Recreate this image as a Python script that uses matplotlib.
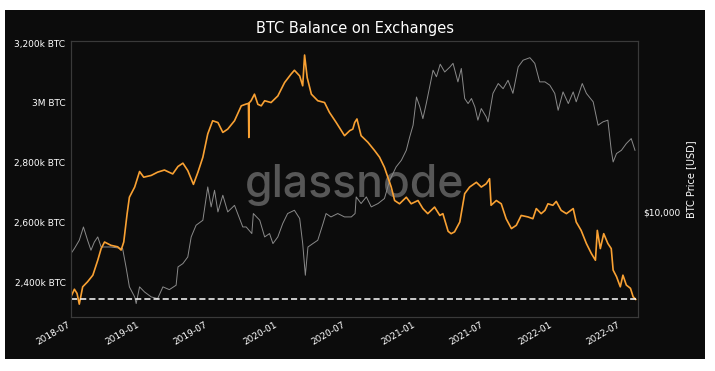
import numpy as np
import pandas as pd
import matplotlib
matplotlib.use('Agg')
import matplotlib.pyplot as plt
import matplotlib.dates as mdates
from matplotlib.ticker import FixedLocator, FuncFormatter, NullLocator, NullFormatter
from matplotlib.patches import Rectangle

# BTC balance on exchanges, thousand BTC
bal_dates = ['2018-06-29', '2018-07-08', '2018-07-15', '2018-07-21', '2018-07-30', '2018-08-12',
             '2018-08-26', '2018-09-08', '2018-09-17', '2018-09-26', '2018-10-13', '2018-10-31',
             '2018-11-09', '2018-11-16', '2018-11-25', '2018-12-01', '2018-12-15', '2018-12-28',
             '2019-01-08', '2019-01-28', '2019-02-14', '2019-03-04', '2019-03-26', '2019-04-09',
             '2019-04-22', '2019-05-05', '2019-05-20', '2019-06-01', '2019-06-14', '2019-06-27',
             '2019-07-10', '2019-07-24', '2019-08-06', '2019-08-19', '2019-09-06', '2019-09-24',
             '2019-10-07', '2019-10-13', '2019-10-14', '2019-10-15', '2019-10-20', '2019-10-29',
             '2019-11-07', '2019-11-16', '2019-11-25', '2019-12-12', '2019-12-30', '2020-01-17',
             '2020-02-03', '2020-02-12', '2020-02-26', '2020-03-05', '2020-03-10', '2020-03-17',
             '2020-03-28', '2020-04-14', '2020-05-02', '2020-05-15', '2020-06-02', '2020-06-24',
             '2020-07-08', '2020-07-16', '2020-07-21', '2020-07-27', '2020-08-07', '2020-08-25',
             '2020-09-12', '2020-09-25', '2020-10-08', '2020-10-17', '2020-10-26', '2020-11-04',
             '2020-11-17', '2020-12-05', '2020-12-18', '2021-01-05', '2021-01-18', '2021-01-31',
             '2021-02-18', '2021-03-04', '2021-03-12', '2021-03-26', '2021-04-03', '2021-04-12',
             '2021-04-26', '2021-05-09', '2021-05-22', '2021-06-09', '2021-06-22', '2021-07-05',
             '2021-07-14', '2021-07-18', '2021-08-01', '2021-08-14', '2021-08-27', '2021-09-10',
             '2021-09-23', '2021-10-06', '2021-10-24', '2021-11-06', '2021-11-15', '2021-11-28',
             '2021-12-08', '2021-12-16', '2021-12-29', '2022-01-07', '2022-01-20', '2022-02-03',
             '2022-02-21', '2022-03-01', '2022-03-14', '2022-03-28', '2022-04-10', '2022-04-21',
             '2022-04-26', '2022-05-04', '2022-05-13', '2022-05-24', '2022-06-02', '2022-06-07',
             '2022-06-16', '2022-06-26', '2022-07-03', '2022-07-12', '2022-07-23', '2022-07-30',
             '2022-08-06']
bal_k = [2351, 2376, 2362, 2326, 2384, 2401,
         2423, 2473, 2512, 2534, 2523, 2518,
         2507, 2534, 2629, 2684, 2718, 2770,
         2751, 2757, 2768, 2775, 2762, 2787,
         2798, 2773, 2727, 2768, 2818, 2896,
         2940, 2934, 2901, 2912, 2940, 2990,
         2996, 2998, 2884, 3000, 3007, 3029,
         2995, 2990, 3007, 3001, 3023, 3068,
         3096, 3109, 3090, 3057, 3160, 3084,
         3029, 3007, 3001, 2968, 2934, 2890,
         2907, 2912, 2934, 2946, 2890, 2868,
         2840, 2818, 2784, 2751, 2718, 2673,
         2662, 2684, 2662, 2673, 2646, 2629,
         2651, 2623, 2629, 2570, 2562, 2568,
         2601, 2696, 2718, 2734, 2718, 2729,
         2746, 2657, 2673, 2662, 2612, 2579,
         2590, 2623, 2618, 2612, 2646, 2629,
         2640, 2662, 2657, 2670, 2640, 2629,
         2646, 2601, 2573, 2529, 2496, 2473,
         2573, 2512, 2562, 2529, 2512, 2440,
         2418, 2384, 2423, 2390, 2379, 2351,
         2342]

# BTC price, USD
px_dates = ['2018-06-29', '2018-07-08', '2018-07-21', '2018-08-01', '2018-08-12', '2018-08-21',
            '2018-08-30', '2018-09-08', '2018-09-17', '2018-10-13', '2018-11-13', '2018-11-22',
            '2018-12-01', '2018-12-15', '2018-12-19', '2018-12-28', '2019-01-10', '2019-01-28',
            '2019-02-14', '2019-02-28', '2019-03-17', '2019-04-04', '2019-04-09', '2019-04-22',
            '2019-05-05', '2019-05-14', '2019-05-27', '2019-06-14', '2019-06-27', '2019-07-06',
            '2019-07-15', '2019-07-24', '2019-08-06', '2019-08-19', '2019-09-06', '2019-09-28',
            '2019-10-07', '2019-10-22', '2019-10-26', '2019-11-12', '2019-11-25', '2019-12-08',
            '2019-12-17', '2019-12-30', '2020-01-12', '2020-01-25', '2020-02-12', '2020-02-26',
            '2020-03-05', '2020-03-12', '2020-03-19', '2020-04-01', '2020-04-14', '2020-04-28',
            '2020-05-06', '2020-05-19', '2020-06-06', '2020-06-24', '2020-07-12', '2020-07-22',
            '2020-07-25', '2020-08-07', '2020-08-21', '2020-09-03', '2020-09-21', '2020-10-08',
            '2020-10-22', '2020-11-08', '2020-11-22', '2020-12-05', '2020-12-14', '2020-12-23',
            '2021-01-01', '2021-01-10', '2021-01-18', '2021-01-27', '2021-02-05', '2021-02-14',
            '2021-02-23', '2021-03-05', '2021-03-17', '2021-03-31', '2021-04-08', '2021-04-21',
            '2021-04-30', '2021-05-09', '2021-05-18', '2021-05-27', '2021-06-05', '2021-06-13',
            '2021-06-22', '2021-07-05', '2021-07-10', '2021-07-23', '2021-08-06', '2021-08-19',
            '2021-09-01', '2021-09-14', '2021-09-28', '2021-10-11', '2021-10-29', '2021-11-11',
            '2021-11-24', '2021-12-08', '2021-12-21', '2022-01-03', '2022-01-12', '2022-01-25',
            '2022-02-08', '2022-02-21', '2022-03-01', '2022-03-17', '2022-03-28', '2022-04-15',
            '2022-04-28', '2022-05-11', '2022-05-24', '2022-06-02', '2022-06-07', '2022-06-16',
            '2022-06-29', '2022-07-12', '2022-07-25', '2022-08-04']
px_usd = [5970, 6350, 7047, 8320, 7047, 6220,
          6895, 7345, 6478, 6478, 6350, 5050,
          3935, 3470, 3194, 3935, 3694, 3470,
          3399, 3935, 3801, 4017, 5050, 5264,
          5720, 7345, 8500, 9048, 13720, 10690,
          13160, 10040, 12370, 10040, 10900, 8320,
          8320, 7660, 9838, 9048, 7345, 7660,
          6760, 7345, 8683, 9838, 10250, 9243,
          6760, 4550, 6478, 6760, 7047, 8683,
          9838, 9430, 9838, 9430, 9430, 9838,
          12110, 11150, 12110, 10690, 11150, 11870,
          14920, 17620, 19160, 21690, 25620, 29680,
          42200, 37300, 32210, 38890, 47870, 59000,
          54350, 63600, 57700, 61500, 64300, 51000,
          60300, 41420, 38890, 41420, 37300, 31600,
          36540, 32950, 30940, 44180, 49960, 46840,
          52030, 44180, 61500, 66850, 69000, 64300,
          51000, 51000, 48900, 44180, 35760, 45000,
          38890, 45000, 39740, 49960, 44180, 39740,
          29680, 30940, 31600, 21690, 18740, 20830,
          21690, 23600, 25100, 21690]

bal_ref = 2343  # dashed level, k BTC

bg = '#0c0c0c'
fig = plt.figure(figsize=(7.15, 3.71), dpi=100, facecolor='white')
fig.patches.append(Rectangle((5 / 715, 12 / 371), 700 / 715, 349 / 371,
                             transform=fig.transFigure, facecolor=bg, edgecolor='none', zorder=-10))

# watermark sits behind the (transparent) axes
fig.text(355 / 715, 1 - 197 / 371, 'glassnode', color='#575757', fontsize=32,
         family=['Inter', 'DejaVu Sans'], weight='medium',
         ha='center', va='baseline', zorder=-5)

ax = fig.add_axes([71 / 715, 54 / 371, 567 / 715, 276 / 371])
ax2 = ax.twinx()

bd = pd.to_datetime(bal_dates)
pdts = pd.to_datetime(px_dates)

ax2.plot(pdts, px_usd, color='#8a8a8a', lw=0.7)
ax2.set_yscale('log')
ax2.set_ylim(2700, 85000)
ax2.yaxis.set_major_locator(FixedLocator([10000]))
ax2.yaxis.set_major_formatter(FuncFormatter(lambda v, p: '${:,.0f}'.format(v)))
ax2.yaxis.set_minor_locator(NullLocator())
ax2.yaxis.set_minor_formatter(NullFormatter())
ax2.set_ylabel('BTC Price [USD]', color='white', fontsize=7, labelpad=4)

ax.set_zorder(ax2.get_zorder() + 1)
ax.patch.set_visible(False)
ax2.patch.set_visible(False)

ax.plot(bd, bal_k, color='#f9a133', lw=1.2)
ax.hlines(bal_ref, bd[0], bd[-1], colors='white', linestyles=(0, (4, 2)), lw=1.1)
ax.set_ylim(2283, 3207)
ax.set_xlim(pd.Timestamp('2018-06-29'), pd.Timestamp('2022-08-12'))
ax.yaxis.set_major_locator(FixedLocator([2400, 2600, 2800, 3000, 3200]))
ax.yaxis.set_major_formatter(FuncFormatter(
    lambda v, p: '3M BTC' if v == 3000 else '{:,.0f}k BTC'.format(v)))
ax.xaxis.set_major_locator(mdates.MonthLocator(bymonth=[1, 7]))
ax.xaxis.set_major_formatter(mdates.DateFormatter('%Y-%m'))

for a in (ax, ax2):
    a.tick_params(colors='white', labelsize=6.5, length=0, pad=4)
    for s in a.spines.values():
        s.set_color('#3a3a3a')
        s.set_linewidth(0.8)
ax.tick_params(axis='x', pad=2)
for lab in ax.get_xticklabels():
    lab.set_rotation(30)
    lab.set_ha('right')

fig.text(355 / 715, 1 - 29 / 371, 'BTC Balance on Exchanges', color='white',
         fontsize=10.5, ha='center', va='center')

fig.savefig('out.png', dpi=100, facecolor='white')
